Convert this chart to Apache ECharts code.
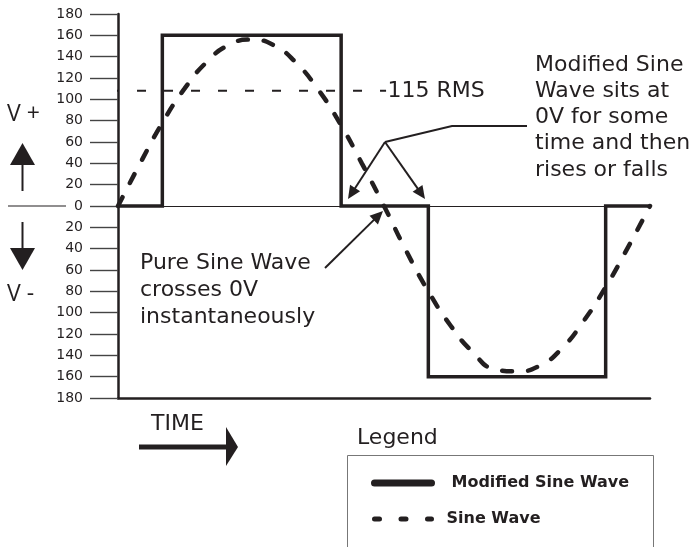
<!DOCTYPE html>
<html>
<head>
<meta charset="utf-8">
<script src="https://cdn.jsdelivr.net/npm/echarts@6/dist/echarts.min.js"></script>
<style>
html,body{margin:0;padding:0;background:#fff;}
#c{width:693px;height:547px;}
</style>
</head>
<body>
<div id="c"></div>
<script>
// ---- data (phase in degrees, voltage) ----
const modifiedPhase = [0, 30, 30, 151, 151, 210, 210, 330, 330, 360];
const modifiedVolts = [0, 0, 160, 160, 0, 0, -160, -160, 0, 0];
const sinePhase = [0, 15, 30, 45, 60, 75, 90, 105, 120, 135, 150, 165, 180, 195, 210, 225, 240, 255, 270, 285, 300, 315, 330, 345, 360];
const sineVolts = [0, 40, 78, 110, 135, 151, 156, 151, 135, 110, 78, 40, 0, -42, -80, -112, -137, -153, -155, -150, -134, -108, -76, -39, 0];
const rmsPhase = [-5.4, 181.4];
const rmsVolts = [108, 108];
const rmsLabel = '115 RMS';
const seriesNames = ['Modified Sine Wave', 'Sine Wave'];

const FONT = "'DejaVu Sans', sans-serif";
const FONT2 = "'Open Sans', sans-serif";
const INK = '#231f20';
const NOSYM = { color: 'rgba(0,0,0,0)', borderColor: 'rgba(0,0,0,0)', borderWidth: 0, opacity: 0 };

function zip(a, b) { return a.map((v, i) => [v, b[i]]); }

function arrow(x1, y1, x2, y2, opt) {
  opt = opt || {};
  const w = opt.w || 2, hl = opt.hl || 13, hw = opt.hw || 6;
  const dx = x2 - x1, dy = y2 - y1, L = Math.sqrt(dx * dx + dy * dy);
  const ux = dx / L, uy = dy / L;
  const bx = x2 - ux * hl, by = y2 - uy * hl;
  return [
    { type: 'line', shape: { x1: x1, y1: y1, x2: bx + ux * 1, y2: by + uy * 1 }, style: { stroke: INK, lineWidth: w }, silent: true },
    { type: 'polygon', shape: { points: [[x2, y2], [bx - uy * hw, by + ux * hw], [bx + uy * hw, by - ux * hw]] }, style: { fill: INK }, silent: true }
  ];
}

function txt(x, y, text, font, extra) {
  return {
    type: 'text', silent: true,
    style: Object.assign({ x: x, y: y, text: text, font: font, fill: INK, verticalAlign: 'top' }, extra || {})
  };
}

const BIG = '22px ' + FONT;

const graphics = [
  { type: 'line', shape: { x1: 8, y1: 206, x2: 66, y2: 206 }, style: { stroke: INK, lineWidth: 1.2 }, silent: true },
  txt(7, 114, 'V +', '23px ' + FONT2, { verticalAlign: 'middle' }),
  txt(7, 294, 'V -', '23px ' + FONT2, { verticalAlign: 'middle' }),
  { type: 'line', shape: { x1: 22.5, y1: 160, x2: 22.5, y2: 191 }, style: { stroke: INK, lineWidth: 2 }, silent: true },
  { type: 'polygon', shape: { points: [[22.5, 143], [10, 165], [35, 165]] }, style: { fill: INK }, silent: true },
  { type: 'line', shape: { x1: 22.5, y1: 222, x2: 22.5, y2: 252 }, style: { stroke: INK, lineWidth: 2 }, silent: true },
  { type: 'polygon', shape: { points: [[22.5, 270], [10, 248], [35, 248]] }, style: { fill: INK }, silent: true },
  txt(151, 424, 'TIME', BIG, { verticalAlign: 'middle' }),
  { type: 'line', shape: { x1: 139, y1: 447, x2: 229, y2: 447 }, style: { stroke: INK, lineWidth: 5 }, silent: true },
  { type: 'polygon', shape: { points: [[238, 447], [226, 427], [226, 466]] }, style: { fill: INK }, silent: true },
  txt(535, 52, 'Modified Sine\nWave sits at\n0V for some\ntime and then\nrises or falls', BIG, { lineHeight: 26.2 }),
  txt(140, 250, 'Pure Sine Wave\ncrosses 0V\ninstantaneously', BIG, { lineHeight: 27 }),
  { type: 'polyline', shape: { points: [[527, 126], [452, 126], [385, 142]] }, style: { stroke: INK, lineWidth: 2, fill: null }, silent: true },
  ...arrow(385, 142, 348, 199),
  ...arrow(385, 142, 425, 199),
  ...arrow(325, 268, 383, 211),
  txt(357, 438, 'Legend', BIG, { verticalAlign: 'middle' }),
  { type: 'rect', shape: { x: 347.5, y: 455.5, width: 306, height: 120 }, style: { stroke: '#777', lineWidth: 1, fill: null }, silent: true }
];

const rmsData = zip(rmsPhase, rmsVolts).map((p, i, arr) => i === arr.length - 1
  ? { value: p, label: { show: true, position: 'right', distance: 1, formatter: rmsLabel, fontSize: 22, color: INK, fontFamily: FONT } }
  : { value: p });

const chart = echarts.init(document.getElementById('c'), null, { renderer: 'canvas' });
chart.setOption({
  animation: false,
  backgroundColor: '#fff',
  grid: { left: 118, right: 43, top: 14, bottom: 149, containLabel: false },
  xAxis: [
    { type: 'value', min: 0, max: 360, position: 'top',
      axisLine: { show: true, onZero: true, lineStyle: { color: INK, width: 1.2 } },
      axisTick: { show: false }, axisLabel: { show: false }, splitLine: { show: false } },
    { type: 'value', min: 0, max: 360, position: 'bottom',
      axisLine: { show: true, onZero: false, lineStyle: { color: INK, width: 2.5 } },
      axisTick: { show: false }, axisLabel: { show: false }, splitLine: { show: false } }
  ],
  yAxis: {
    type: 'value', min: -180, max: 180, interval: 20,
    axisLine: { show: true, onZero: false, lineStyle: { color: INK, width: 2.5 } },
    axisTick: { show: true, inside: false, length: 28, lineStyle: { color: '#444', width: 1.4 } },
    axisLabel: { margin: 35, fontSize: 14, color: INK, fontFamily: FONT, formatter: v => String(Math.abs(v)) },
    splitLine: { show: false }
  },
  legend: {
    orient: 'vertical', left: 371, top: 475, padding: 0, itemWidth: 57, itemHeight: 14, itemGap: 20,
    selectedMode: false,
    textStyle: { fontSize: 16, fontWeight: 'bold', color: INK, fontFamily: FONT },
    data: [
      { name: seriesNames[0], itemStyle: NOSYM, lineStyle: { width: 7, cap: 'round' }, textStyle: { padding: [0, 0, 0, 15] } },
      { name: seriesNames[1], itemStyle: NOSYM, lineStyle: { width: 5, type: [5, 21.5], cap: 'round' }, textStyle: { padding: [0, 0, 0, 10] } }
    ]
  },
  series: [
    { name: seriesNames[0], type: 'line', data: zip(modifiedPhase, modifiedVolts), symbol: 'none',
      lineStyle: { color: INK, width: 3.5, join: 'miter' }, itemStyle: { color: INK }, z: 3 },
    { name: seriesNames[1], type: 'line', data: zip(sinePhase, sineVolts), symbol: 'none', smooth: true,
      lineStyle: { color: INK, width: 4.5, type: [10, 16], cap: 'round' }, itemStyle: { color: INK }, z: 4 },
    { name: 'RMS', type: 'line', data: rmsData, symbol: 'circle', symbolSize: 1, showSymbol: true, clip: false,
      itemStyle: { color: 'rgba(0,0,0,0)' },
      lineStyle: { color: INK, width: 2, type: [9, 18] }, z: 2 }
  ],
  graphic: { elements: graphics }
});
</script>
</body>
</html>
